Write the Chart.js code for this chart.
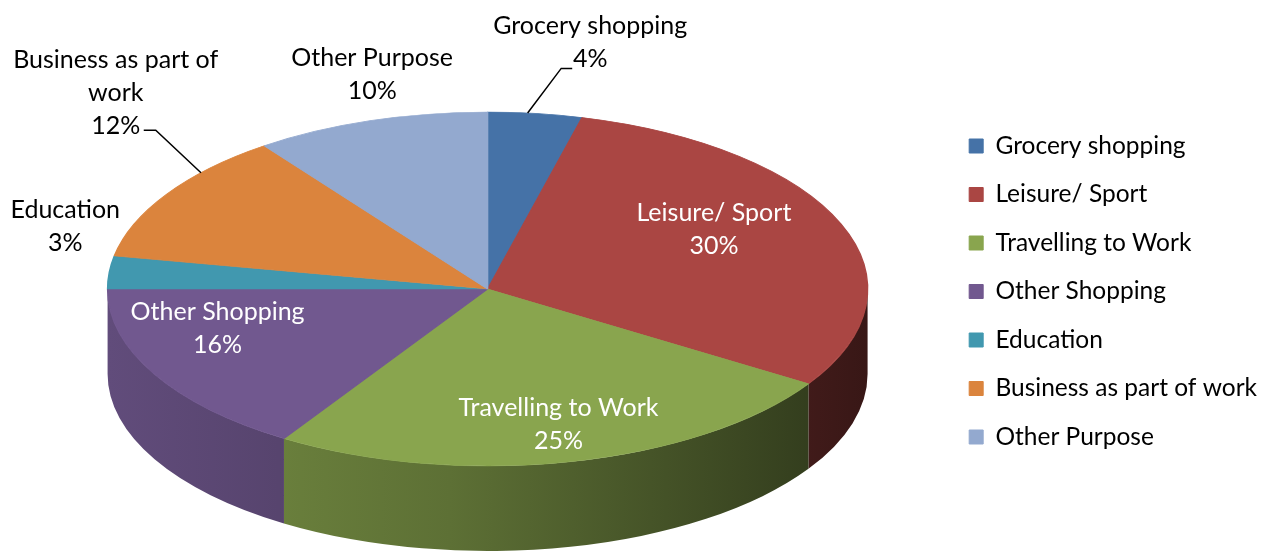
<!DOCTYPE html>
<html>
<head>
<meta charset="utf-8">
<script src="https://cdn.jsdelivr.net/npm/chart.js@4.4.0/dist/chart.umd.min.js"></script>
<style>
  html, body { margin: 0; padding: 0; background: #fff; }
  #wrap { width: 1279px; height: 556px; }
</style>
</head>
<body>
<div id="wrap"><canvas id="pie" width="1279" height="556"></canvas></div>
<script>
// share of trips by purpose (%)
const categories = ['Grocery shopping', 'Leisure/ Sport', 'Travelling to Work', 'Other Shopping', 'Education', 'Business as part of work', 'Other Purpose'];
const shares = [4, 30, 25, 16, 3, 12, 10];
const colours = ['#4572a7', '#aa4643', '#89a54e', '#71588f', '#4198af', '#db843d', '#93a9cf'];

// label text as it is wrapped on the chart
const labelText = [['Grocery shopping'], ['Leisure/ Sport'], ['Travelling to Work'], ['Other Shopping'], ['Education'], ['Business as part of', 'work'], ['Other Purpose']];

// where each label sits, measured from the rim point of its slice
const labelPlace = [
  { dx: 55, dy: -71, inside: false, leadAt: 0.42, leader: [[-29, 26], [-18, 26]] },
  { dx: -127, dy: 6, inside: true },
  { dx: -12, dy: -37, inside: true },
  { dx: 63, dy: -46, inside: true },
  { dx: -44, dy: -46, inside: false },
  { dx: -51, dy: -101, inside: false, leadAt: 0.7, leader: [[40, 37], [28, 37]] },
  { dx: 2, dy: -46, inside: false }
];

// 3d look
const RX = 380, RY = 177, DEPTH = 85, LIFT = 2.5;
const FONT = '25px Lato';

function shade(hex, f) {
  const n = parseInt(hex.slice(1), 16);
  const r = Math.round(((n >> 16) & 255) * f);
  const g = Math.round(((n >> 8) & 255) * f);
  const b = Math.round((n & 255) * f);
  return `rgb(${r},${g},${b})`;
}

function geom(chart) {
  const arcs = chart.getDatasetMeta(0).data;
  const a = arcs[0];
  return { arcs, cx: a.x, cy: a.y - LIFT, r: a.outerRadius, x0: a.x, y0: a.y };
}

// side walls below, squash the pie into an ellipse, then the labels
const pie3d = {
  id: 'pie3d',
  beforeDatasetsDraw(chart) {
    const ctx = chart.ctx;
    const g = geom(chart);
    g.arcs.forEach((arc, i) => {
      const a0 = Math.max(arc.startAngle, 0);
      const a1 = Math.min(arc.endAngle, Math.PI);
      if (a1 <= a0) return;
      const grad = ctx.createLinearGradient(g.cx - RX, 0, g.cx + RX, 0);
      grad.addColorStop(0, shade(colours[i], 0.86));
      grad.addColorStop(0.45, shade(colours[i], 0.68));
      grad.addColorStop(1, shade(colours[i], 0.33));
      ctx.beginPath();
      ctx.ellipse(g.cx, g.cy, RX, RY, 0, a0, a1);
      ctx.ellipse(g.cx, g.cy + DEPTH, RX, RY, 0, a1, a0, true);
      ctx.closePath();
      ctx.fillStyle = grad;
      ctx.fill();
    });
    ctx.save();
    ctx.translate(g.cx, g.cy);
    ctx.scale(RX / g.r, RY / g.r);
    ctx.translate(-g.x0, -g.y0);
  },
  afterDatasetsDraw(chart) {
    const ctx = chart.ctx;
    ctx.restore();
    const g = geom(chart);
    const total = shares.reduce((s, v) => s + v, 0);
    ctx.font = FONT;
    ctx.textAlign = 'center';
    ctx.textBaseline = 'middle';
    g.arcs.forEach((arc, i) => {
      const p = labelPlace[i];
      const mid = (arc.startAngle + arc.endAngle) / 2;
      const rx = g.cx + RX * Math.cos(mid);
      const ry = g.cy + RY * Math.sin(mid);
      const lx = rx + p.dx, ly = ry + p.dy;
      const lines = labelText[i].concat([Math.round(shares[i] / total * 100) + '%']);
      const step = 33;
      const top = ly - (lines.length - 1) * step / 2;
      ctx.fillStyle = p.inside ? '#ffffff' : '#000000';
      lines.forEach((t, k) => ctx.fillText(t, lx, top + k * step));
      if (p.leader) {
        const la = arc.startAngle + (arc.endAngle - arc.startAngle) * p.leadAt;
        ctx.beginPath();
        ctx.moveTo(g.cx + RX * Math.cos(la), g.cy + RY * Math.sin(la));
        p.leader.forEach(pt => ctx.lineTo(lx + pt[0], ly + pt[1]));
        ctx.strokeStyle = '#000';
        ctx.lineWidth = 1.5;
        ctx.stroke();
      }
    });
  }
};

new Chart(document.getElementById('pie'), {
  type: 'pie',
  data: {
    labels: categories,
    datasets: [{
      data: shares,
      backgroundColor: colours,
      borderColor: colours,
      borderWidth: 1,
      clip: false
    }]
  },
  options: {
    responsive: false,
    animation: false,
    devicePixelRatio: 1,
    layout: { padding: { left: 30, top: 27, right: 12, bottom: 0 } },
    plugins: {
      legend: {
        position: 'right',
        align: 'center',
        labels: {
          boxWidth: 14,
          boxHeight: 14,
          padding: 24,
          color: '#000',
          font: { family: 'Lato', size: 24.5 }
        }
      },
      tooltip: { enabled: false }
    }
  },
  plugins: [pie3d]
});
</script>
</body>
</html>
